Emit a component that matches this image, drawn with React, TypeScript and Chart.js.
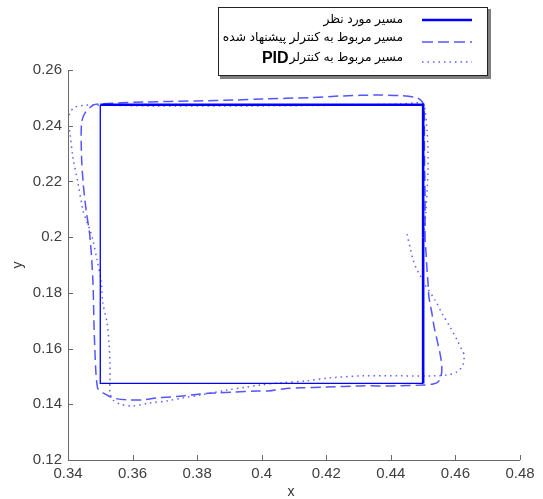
import React, { useEffect, useRef } from "react";
import { Chart, registerables } from "chart.js";

Chart.register(...registerables);

// Desired (reference) trajectory
const refX = [0.45, 0.45, 0.35, 0.35, 0.45, 0.45];
const refY = [0.2, 0.1475, 0.1475, 0.2475, 0.2475, 0.2];

// Trajectory with proposed controller (dashed)
const propX = [0.4506, 0.4506, 0.4509, 0.4512, 0.4515, 0.4518, 0.4527, 0.4534, 0.4543, 0.4552, 0.4558, 0.4555, 0.4546, 0.4531, 0.45, 0.4407, 0.4304, 0.4202, 0.4119, 0.4066, 0.402, 0.3985, 0.3911, 0.3862, 0.3809, 0.3756, 0.3716, 0.3676, 0.3632, 0.3583, 0.3539, 0.3508, 0.3504, 0.3493, 0.349, 0.3486, 0.3481, 0.3477, 0.3468, 0.3456, 0.3447, 0.3442, 0.3442, 0.3453, 0.3478, 0.3499, 0.3632, 0.38, 0.3911, 0.4004, 0.415, 0.4252, 0.4357, 0.4428, 0.4481, 0.4497, 0.4503, 0.4504, 0.4506, 0.4506];
const propY = [0.2018, 0.199, 0.1943, 0.1882, 0.1836, 0.1785, 0.1728, 0.1678, 0.1631, 0.1584, 0.1534, 0.1498, 0.148, 0.1473, 0.1469, 0.1466, 0.1466, 0.1462, 0.1459, 0.1455, 0.1448, 0.1448, 0.1444, 0.1441, 0.1437, 0.143, 0.1426, 0.1423, 0.1416, 0.1416, 0.1423, 0.1441, 0.1444, 0.1455, 0.1469, 0.1523, 0.1667, 0.1846, 0.2001, 0.2098, 0.2194, 0.2288, 0.241, 0.2446, 0.2474, 0.2478, 0.2485, 0.2489, 0.2492, 0.2496, 0.2501, 0.2507, 0.251, 0.2508, 0.25, 0.2486, 0.2464, 0.2313, 0.2133, 0.2018];

// Trajectory with PID controller (dotted)
const pidX = [0.445, 0.4459, 0.4469, 0.4481, 0.449, 0.4506, 0.4537, 0.4561, 0.4583, 0.4605, 0.462, 0.4627, 0.4623, 0.4605, 0.4574, 0.4531, 0.4428, 0.4314, 0.4202, 0.414, 0.4057, 0.3995, 0.3954, 0.3892, 0.3809, 0.3756, 0.3707, 0.3654, 0.3601, 0.3561, 0.3539, 0.353, 0.353, 0.353, 0.3527, 0.3521, 0.3508, 0.3502, 0.349, 0.3477, 0.3468, 0.3456, 0.3446, 0.3431, 0.3415, 0.3406, 0.34, 0.3406, 0.3422, 0.3459, 0.349, 0.3654, 0.3964, 0.4273, 0.4428, 0.4475, 0.449, 0.45, 0.4506, 0.4512, 0.4515, 0.4515, 0.4509, 0.4503];
const pidY = [0.2011, 0.1965, 0.1918, 0.1882, 0.1864, 0.1828, 0.1774, 0.1721, 0.1678, 0.1631, 0.1595, 0.1577, 0.1541, 0.1516, 0.1505, 0.1502, 0.1502, 0.1502, 0.1494, 0.1484, 0.1477, 0.1469, 0.1462, 0.1451, 0.1433, 0.1423, 0.1412, 0.1405, 0.1394, 0.1401, 0.1416, 0.1441, 0.1487, 0.1548, 0.162, 0.1692, 0.1764, 0.1846, 0.1918, 0.199, 0.2026, 0.2062, 0.2098, 0.2194, 0.2288, 0.2374, 0.241, 0.2446, 0.2467, 0.2474, 0.2474, 0.2471, 0.2471, 0.2474, 0.2478, 0.2482, 0.2482, 0.2478, 0.2456, 0.2385, 0.2313, 0.2241, 0.2098, 0.2019];

const xTicks = [0.34, 0.36, 0.38, 0.4, 0.42, 0.44, 0.46, 0.48];
const yTicks = [0.12, 0.14, 0.16, 0.18, 0.2, 0.22, 0.24, 0.26];
const xTickLabels = ["0.34", "0.36", "0.38", "0.4", "0.42", "0.44", "0.46", "0.48"];
const yTickLabels = ["0.12", "0.14", "0.16", "0.18", "0.2", "0.22", "0.24", "0.26"];

const legendLabels = ["مسیر مورد نظر", "مسیر مربوط به کنترلر پیشنهاد شده", "مسیر مربوط به کنترلر"];
const legendSuffix = "PID";

const FONT = "Arial, 'Liberation Sans', 'DejaVu Sans', sans-serif";
const SOLID = "#0000ff";
const DASH = "rgb(85,85,255)";
const DOT = "rgb(95,95,255)";

const toPts = (xs: number[], ys: number[]) => xs.map((x, i) => ({ x, y: ys[i] }));

const overlayPlugin = {
  id: "overlay",
  afterDraw(chart: any) {
    const ctx = chart.ctx;
    const a = chart.chartArea;
    const xs = chart.scales.x;
    const ys = chart.scales.y;
    ctx.save();
    // axes
    ctx.strokeStyle = "#6a6a6a";
    ctx.lineWidth = 1;
    ctx.beginPath();
    ctx.moveTo(a.left + 0.5, a.top);
    ctx.lineTo(a.left + 0.5, a.bottom + 0.5);
    ctx.lineTo(a.right, a.bottom + 0.5);
    ctx.stroke();
    // inward ticks
    ctx.beginPath();
    xTicks.forEach((v) => {
      const p = Math.round(xs.getPixelForValue(v)) + 0.5;
      ctx.moveTo(p, a.bottom);
      ctx.lineTo(p, a.bottom - 5);
    });
    yTicks.forEach((v) => {
      const p = Math.round(ys.getPixelForValue(v)) + 0.5;
      ctx.moveTo(a.left, p);
      ctx.lineTo(a.left + 5, p);
    });
    ctx.stroke();
    // axis titles
    ctx.fillStyle = "#333";
    ctx.font = `14px ${FONT}`;
    ctx.textAlign = "center";
    ctx.textBaseline = "middle";
    ctx.fillText("x", (a.left + a.right) / 2 - 3, 492);
    ctx.save();
    ctx.translate(18, (a.top + a.bottom) / 2);
    ctx.rotate(-Math.PI / 2);
    ctx.fillText("y", 0, 0);
    ctx.restore();

    // legend box
    const bx = 218, by = 7, bw = 270, bh = 69;
    ctx.fillStyle = "#808080";
    ctx.fillRect(bx + 2, by + 2, bw + 1, bh + 1);
    ctx.fillStyle = "#ffffff";
    ctx.fillRect(bx, by, bw, bh);
    ctx.strokeStyle = "#222";
    ctx.lineWidth = 1;
    ctx.strokeRect(bx + 0.5, by + 0.5, bw - 1, bh - 1);

    const textRight = 403;
    const rowsY = [20, 38, 58];
    const lineYs = [20, 42, 62];
    ctx.fillStyle = "#000";
    ctx.textAlign = "right";
    ctx.textBaseline = "middle";
    // fit font size so the longest row spans ~180px
    ctx.font = `14px ${FONT}`;
    const w14 = ctx.measureText(legendLabels[1]).width || 180;
    const fs = Math.max(10, Math.min(18, (14 * 180) / w14));
    ctx.font = `${fs.toFixed(1)}px ${FONT}`;
    legendLabels.forEach((t, i) => {
      ctx.fillText(t, textRight, rowsY[i]);
    });
    const w3 = ctx.measureText(legendLabels[2]).width;
    ctx.font = `bold 16px ${FONT}`;
    ctx.fillText(legendSuffix, textRight - w3 - 1, rowsY[2] + 1);

    // legend samples
    const lx0 = 422, lx1 = 472;
    ctx.lineWidth = 2.5;
    ctx.strokeStyle = SOLID;
    ctx.setLineDash([]);
    ctx.beginPath();
    ctx.moveTo(lx0, lineYs[0]);
    ctx.lineTo(lx1, lineYs[0]);
    ctx.stroke();
    ctx.lineWidth = 1.5;
    ctx.strokeStyle = DASH;
    ctx.setLineDash([11, 5]);
    ctx.beginPath();
    ctx.moveTo(lx0, lineYs[1]);
    ctx.lineTo(lx1, lineYs[1]);
    ctx.stroke();
    ctx.strokeStyle = DOT;
    ctx.setLineDash([1.5, 4]);
    ctx.beginPath();
    ctx.moveTo(lx0, lineYs[2]);
    ctx.lineTo(lx1, lineYs[2]);
    ctx.stroke();
    ctx.restore();
  },
};

export default function App() {
  const ref = useRef<HTMLCanvasElement | null>(null);
  useEffect(() => {
    document.body.style.margin = "0";
    if (!ref.current) return;
    const chart = new Chart(ref.current, {
      type: "scatter",
      data: {
        datasets: [
          {
            label: legendLabels[0],
            data: toPts(refX, refY),
            showLine: true,
            borderColor: SOLID,
            borderWidth: 2.5,
            pointRadius: 0,
            segment: {
              borderWidth: (c: any) => {
                const p0 = c.p0.parsed, p1 = c.p1.parsed;
                const bottom = p0.y === p1.y && p0.y < 0.2;
                const left = p0.x === p1.x && p0.x < 0.4;
                return bottom || left ? 1.3 : 2.6;
              },
            },
          },
          {
            label: legendLabels[1],
            data: toPts(propX, propY),
            showLine: true,
            borderColor: DASH,
            borderWidth: 1.5,
            borderDash: [10, 5],
            pointRadius: 0,
            tension: 0.3,
          },
          {
            label: legendLabels[2] + " " + legendSuffix,
            data: toPts(pidX, pidY),
            showLine: true,
            borderColor: DOT,
            borderWidth: 1.5,
            borderDash: [1.5, 4],
            pointRadius: 0,
            tension: 0.3,
          },
        ],
      },
      options: {
        responsive: false,
        animation: false,
        layout: { padding: { top: 70, right: 23, left: 0, bottom: 0 } },
        plugins: {
          legend: { display: false },
          tooltip: { enabled: false },
        },
        scales: {
          x: {
            type: "linear",
            min: 0.34,
            max: 0.48,
            grid: { display: false, drawTicks: false },
            border: { display: false },
            afterBuildTicks: (s: any) => {
              s.ticks = xTicks.map((v) => ({ value: v }));
            },
            afterFit: (s: any) => {
              s.height = 39;
            },
            ticks: {
              autoSkip: false,
              maxRotation: 0,
              padding: 5,
              color: "#404040",
              font: { size: 15, family: FONT },
              callback: (v: any) => {
                const i = xTicks.findIndex((t) => Math.abs(t - Number(v)) < 1e-9);
                return i >= 0 ? xTickLabels[i] : "";
              },
            },
          },
          y: {
            type: "linear",
            min: 0.12,
            max: 0.26,
            grid: { display: false, drawTicks: false },
            border: { display: false },
            afterBuildTicks: (s: any) => {
              s.ticks = yTicks.map((v) => ({ value: v }));
            },
            afterFit: (s: any) => {
              s.width = 68;
            },
            ticks: {
              autoSkip: false,
              padding: 6,
              color: "#404040",
              font: { size: 15, family: FONT },
              callback: (v: any) => {
                const i = yTicks.findIndex((t) => Math.abs(t - Number(v)) < 1e-9);
                return i >= 0 ? yTickLabels[i] : "";
              },
            },
          },
        },
      },
      plugins: [overlayPlugin],
    } as any);
    return () => chart.destroy();
  }, []);
  return (
    <div style={{ width: 543, height: 499, background: "#fff" }}>
      <canvas ref={ref} width={543} height={499} style={{ display: "block" }} />
    </div>
  );
}
